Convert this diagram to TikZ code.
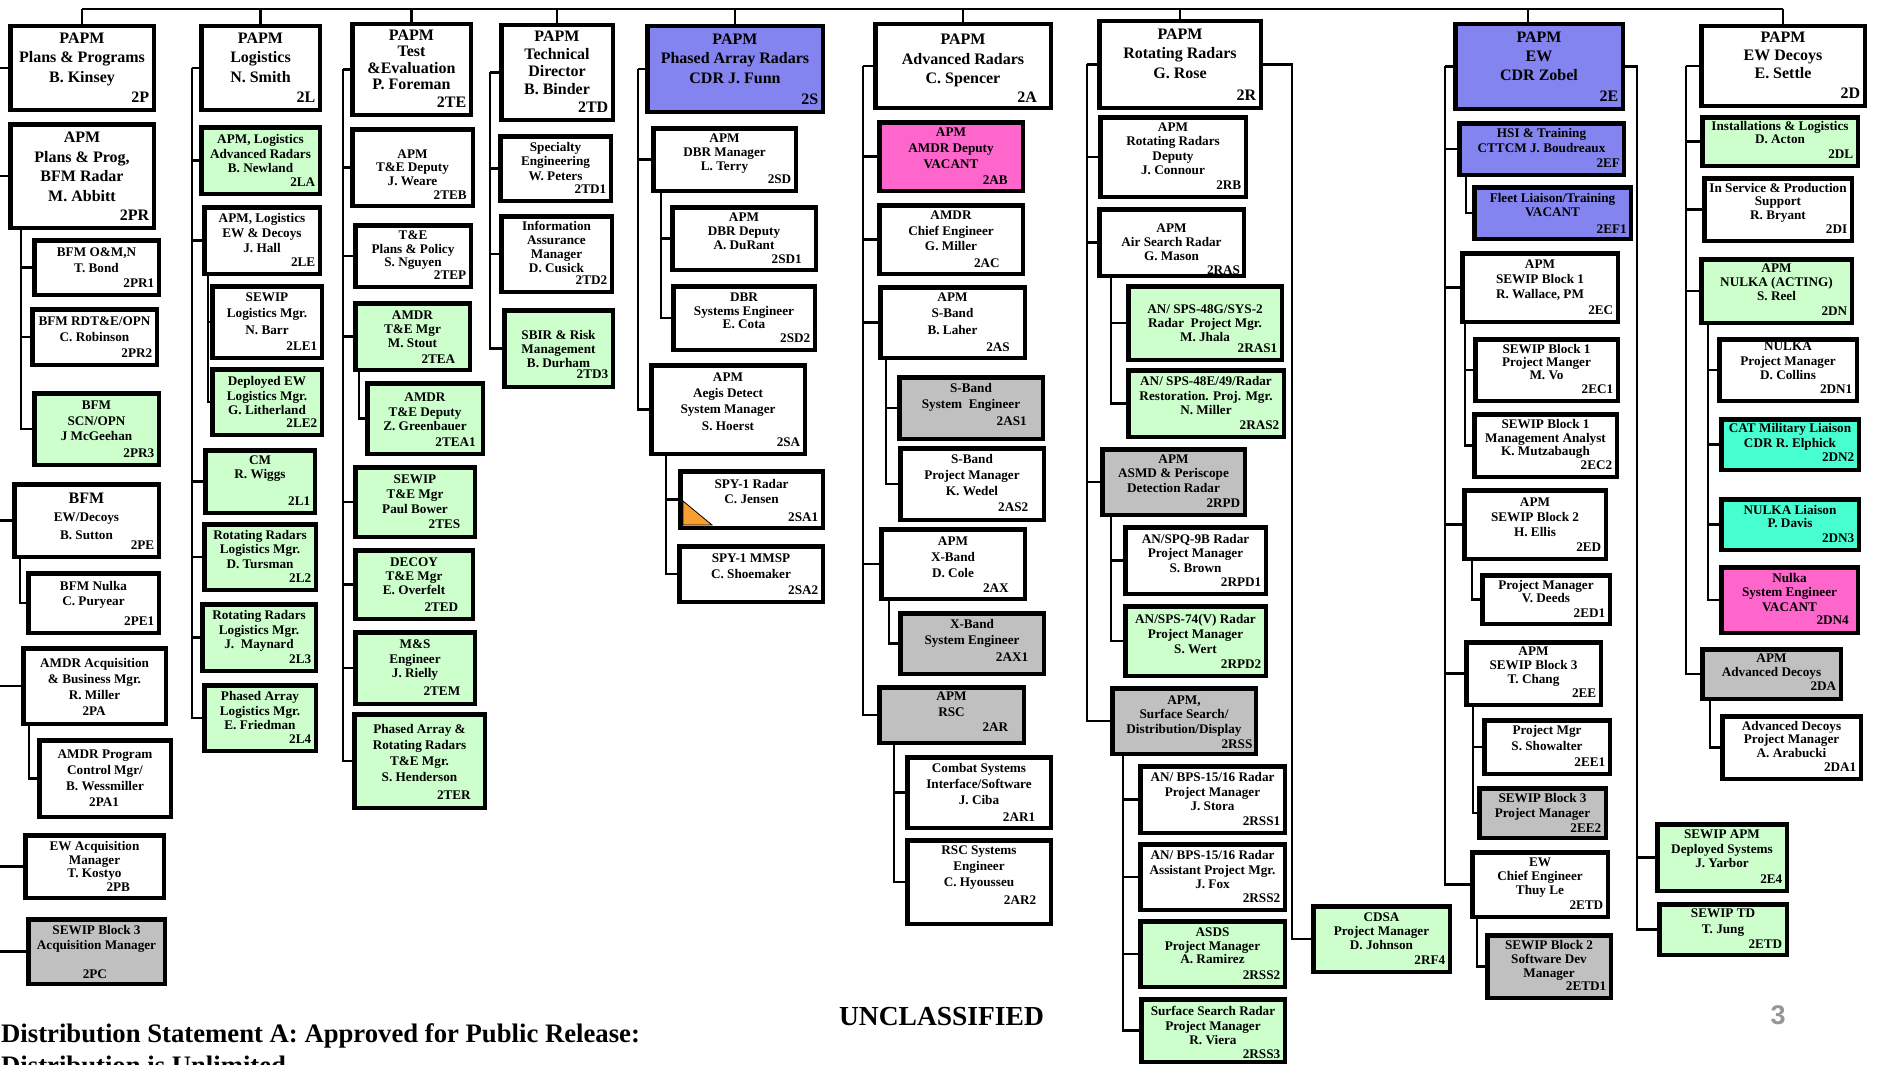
\documentclass[tikz,border=0pt]{standalone}
\usepackage{fontspec}
\setmainfont{Liberation Serif}
\newfontfamily\sansf{Liberation Sans}
\pgfdeclarelayer{bg}
\pgfsetlayers{bg,main}
\definecolor{cgreen}{RGB}{204,255,204}
\definecolor{cblue}{RGB}{132,132,240}
\definecolor{cmag}{RGB}{255,102,204}
\definecolor{cgray}{RGB}{192,192,192}
\definecolor{ccyan}{RGB}{72,255,210}
\definecolor{corange}{RGB}{247,160,50}
\definecolor{cpage}{RGB}{150,150,150}
\tikzset{
 obox/.style={draw=black,line width=4.5pt,fill=white,inner sep=0pt,outer sep=0pt,rectangle},
 gfill/.style={fill=cgreen}, bfill/.style={fill=cblue}, mfill/.style={fill=cmag},
 sfill/.style={fill=cgray}, cfill/.style={fill=ccyan},
 otext/.style={align=center,inner sep=0pt,outer sep=0pt,anchor=north},
 ocode/.style={inner sep=0pt,outer sep=0pt,anchor=south east},
 conn/.style={draw=black,line width=2.3pt},
 obig/.code={\gdef\obsize{16}\gdef\obls{19.5}\gdef\obcs{16}},
 ols/.code={\gdef\obls{#1}},
 od/.code={\gdef\obd{#1}},
 ocx/.code={\gdef\obcx{#1}},
 ocy/.code={\gdef\obcy{#1}},
}
\newcommand\orgbox[8]{%
 \gdef\obsize{13.2}\gdef\obls{14.5}\gdef\obcs{13.2}\gdef\obd{8}\gdef\obcx{4.5}\gdef\obcy{7}%
 \node[obox,#6,anchor=north west,minimum width={#4-#2-4.5},minimum height={#5-#3-4.5}] (#1) at (#2+2.25,#3+2.25) {};
 \node[otext,font={\fontsize{\obsize}{\obls}\selectfont\bfseries}] (#1t) at ([yshift={2.25-\obd}]#1.north) {#7};
 \node[ocode,font={\fontsize{\obcs}{\obcs}\selectfont\bfseries}] (#1c) at ([xshift={-\obcx},yshift={\obcy}]#1.south east) {#8};
}
\begin{document}
\begin{tikzpicture}[x=1pt,y=-1pt]
\useasboundingbox (0,0) rectangle (1883,1065);
% ---------- column 1
\orgbox{n2P}{8}{24}{156}{112}{obig,od=8.6}{PAPM\\Plans \& Programs\\B. Kinsey}{2P}
\orgbox{n2PR}{8}{122}{156}{230}{obig,od=10,ols=19.6}{APM\\Plans \& Prog,\\BFM Radar\\M. Abbitt}{2PR}
\orgbox{n2PR1}{32}{238}{161}{297}{od=9.6,ols=16.5}{BFM O\&M,N\\T. Bond}{2PR1}
\orgbox{n2PR2}{30}{307}{159}{367}{od=10,ols=15.5}{BFM RDT\&E/OPN\\C. Robinson}{2PR2}
\orgbox{n2PR3}{32}{391}{161}{467}{gfill,od=10,ols=15.5}{BFM\\SCN/OPN\\J McGeehan}{2PR3}
\orgbox{n2PE}{12}{482}{161}{559}{od=11,ols=18}{{\fontsize{16}{16}\selectfont BFM}\\EW/Decoys\\B. Sutton}{2PE}
\orgbox{n2PE1}{26}{571}{161}{635}{od=10,ols=15.8}{BFM Nulka\\C. Puryear}{2PE1}
\orgbox{n2PA}{21}{646}{168}{726}{od=12,ols=16,ocx=60,ocy=8}{AMDR Acquisition\\\& Business Mgr.\\R. Miller}{2PA}
\orgbox{n2PA1}{37}{738}{173}{819}{od=12,ols=16,ocx=51.75,ocy=10}{AMDR Program\\Control Mgr/\\B. Wessmiller}{2PA1}
\orgbox{n2PB}{23}{833}{166}{900}{od=8.6,ols=13.3,ocx=33.75,ocy=6.5}{EW Acquisition\\Manager\\T. Kostyo}{2PB}
\orgbox{n2PC}{26}{917}{167}{986}{sfill,od=8.6,ols=14.5,ocx=57.75,ocy=5}{SEWIP Block 3\\Acquisition Manager}{2PC}
% ---------- column 2
\orgbox{n2L}{199}{24}{322}{112}{obig,od=8.6}{PAPM\\Logistics\\N. Smith}{2L}
\orgbox{n2LA}{199}{125}{322}{196}{gfill,od=9.6,ols=14.4}{APM, Logistics\\Advanced Radars\\B. Newland}{2LA}
\orgbox{n2LE}{202}{205}{322}{276}{od=8.6,ols=14.8}{APM, Logistics\\EW \& Decoys\\J. Hall}{2LE}
\orgbox{n2LE1}{210}{284}{324}{360}{od=8.6,ols=16.5}{SEWIP\\Logistics Mgr.\\N. Barr}{2LE1}
\orgbox{n2LE2}{210}{367}{324}{437}{gfill,od=9.6,ols=14.6}{Deployed EW\\Logistics Mgr.\\G. Litherland}{2LE2}
\orgbox{n2L1}{203}{448}{317}{515}{gfill,od=7.6}{CM\\R. Wiggs}{2L1}
\orgbox{n2L2}{202}{522}{318}{592}{gfill,od=8}{Rotating Radars\\Logistics Mgr.\\D. Tursman}{2L2}
\orgbox{n2L3}{200}{602}{318}{673}{gfill,od=8.6}{Rotating Radars\\Logistics Mgr.\\J.\ \ Maynard}{2L3}
\orgbox{n2L4}{202}{683}{318}{753}{gfill,od=8.6}{Phased Array\\Logistics Mgr.\\E. Friedman}{2L4}
% ---------- column 3
\orgbox{n2TE}{350}{22}{473}{117}{obig,od=8,ols=16.4}{PAPM\\Test\\\&Evaluation\\P. Foreman}{2TE}
\orgbox{n2TEB}{350}{127}{475}{208}{od=22.4,ols=13.8,ocx=6,ocy=6}{APM\\T\&E Deputy\\J. Weare}{2TEB}
\orgbox{n2TEP}{353}{223}{473}{289}{od=7.6,ols=13.8}{T\&E\\Plans \& Policy\\S. Nguyen}{2TEP}
\orgbox{n2TEA}{353}{301}{472}{372}{gfill,od=10,ols=14.1,ocx=14.5,ocy=6.5}{AMDR\\T\&E Mgr\\M. Stout}{2TEA}
\orgbox{n2TEA1}{365}{381}{485}{456}{gfill,od=12,ols=14.6,ocx=7}{AMDR\\T\&E Deputy\\Z. Greenbauer}{2TEA1}
\orgbox{n2TES}{353}{465}{477}{539}{gfill,od=10,ols=15,ocx=14.5,ocy=8}{SEWIP\\T\&E Mgr\\Paul Bower}{2TES}
\orgbox{n2TED}{353}{548}{475}{621}{gfill,od=10,ols=14,ocx=14.5,ocy=7.7}{DECOY\\T\&E Mgr\\E. Overfelt}{2TED}
\orgbox{n2TEM}{353}{630}{477}{706}{gfill,od=10,ols=14.6,ocx=14.5,ocy=8}{M\&S\\Engineer\\J. Rielly}{2TEM}
\orgbox{n2TER}{352}{712}{487}{810}{gfill,od=12.7,ols=15.8,ocx=14,ocy=8.7}{Phased Array \&\\Rotating Radars\\T\&E Mgr.\\S. Henderson}{2TER}
% ---------- column 4
\orgbox{n2TD}{499}{23}{615}{122}{obig,od=8,ols=17.7}{PAPM\\Technical\\Director\\B. Binder}{2TD}
\orgbox{n2TD1}{498}{134}{613}{203}{od=8,ols=14.6}{Specialty\\Engineering\\W. Peters}{2TD1}
\orgbox{n2TD2}{499}{214}{614}{294}{od=7.6,ols=13.8}{Information\\Assurance\\Manager\\D. Cusick}{2TD2}
\orgbox{n2TD3}{502}{308}{615}{389}{gfill,od=22.4,ols=13.8,ocy=8}{SBIR \& Risk\\Management\\B. Durham}{2TD3}
% ---------- column 5
\orgbox{n2S}{645}{24}{825}{114}{bfill,obig,od=10,ols=19.3}{PAPM\\Phased Array Radars\\CDR J. Funn}{2S}
\orgbox{n2SD}{651}{126}{798}{193}{od=8,ols=14.1}{APM\\DBR Manager\\L. Terry}{2SD}
\orgbox{n2SD1}{670}{205}{818}{272}{od=8,ols=13.8,ocx=14,ocy=6.25}{APM\\DBR Deputy\\A. DuRant}{2SD1}
\orgbox{n2SD2}{671}{284}{817}{352}{od=8.6,ols=13.8}{DBR\\Systems Engineer\\E. Cota}{2SD2}
\orgbox{n2SA}{649}{363}{807}{456}{od=10,ols=16.1}{APM\\Aegis Detect\\System Manager\\S. Hoerst}{2SA}
\orgbox{n2SA1}{678}{469}{825}{530}{od=10,ols=15.8,ocy=6}{SPY-1 Radar\\C. Jensen}{2SA1}
\orgbox{n2SA2}{677}{544}{825}{604}{od=9.3,ols=16.5}{SPY-1 MMSP\\C. Shoemaker}{2SA2}
\filldraw[fill=corange,draw=black,line width=0.8pt] (683,501) -- (683,525) -- (712,525) -- cycle;
% ---------- column 6
\orgbox{n2A}{873}{22}{1053}{110}{obig,od=12,ols=19.5,ocx=13.75,ocy=5}{PAPM\\Advanced Radars\\C. Spencer}{2A}
\orgbox{n2AB}{877}{120}{1025}{193}{mfill,od=7.6,ols=16,ocx=15,ocy=6}{APM\\AMDR Deputy\\VACANT}{2AB}
\orgbox{n2AC}{877}{203}{1025}{276}{od=7.6,ols=15.7,ocx=23,ocy=6}{AMDR\\Chief Engineer\\G. Miller}{2AC}
\orgbox{n2AS}{878}{285}{1027}{360}{od=7.6,ols=16.4,ocx=15,ocy=6.5}{APM\\S-Band\\B. Laher}{2AS}
\orgbox{n2AS1}{897}{375}{1045}{441}{sfill,od=8,ols=16.2,ocx=16,ocy=13.5}{S-Band\\System\ \ Engineer}{2AS1}
\orgbox{n2AS2}{898}{446}{1046}{522}{od=8.6,ols=15.8,ocx=15.5,ocy=8.5}{S-Band\\Project Manager\\K. Wedel}{2AS2}
\orgbox{n2AX}{879}{527}{1027}{601}{od=10,ols=16,ocx=16,ocy=6}{APM\\X-Band\\D. Cole}{2AX}
\orgbox{n2AX1}{898}{611}{1046}{676}{sfill,od=8.6,ols=16.2,ocx=15.5,ocy=12.5}{X-Band\\System Engineer}{2AX1}
\orgbox{n2AR}{877}{685}{1026}{745}{sfill,od=7,ols=15.8,ocx=15.5,ocy=11.5}{APM\\RSC}{2AR}
\orgbox{n2AR1}{905}{755}{1053}{830}{od=8.6,ols=16,ocx=15.5,ocy=6.5}{Combat Systems\\Interface/Software\\J. Ciba}{2AR1}
\orgbox{n2AR2}{905}{838}{1053}{926}{od=7.6,ols=16,ocx=14.5,ocy=19.5}{RSC Systems\\Engineer\\C. Hyousseu}{2AR2}
% ---------- column 7
\orgbox{n2R}{1097}{19}{1263}{110}{obig,od=10,ols=19.3}{PAPM\\Rotating Radars\\G. Rose}{2R}
\orgbox{n2RB}{1098}{115}{1248}{199}{od=7.6,ols=14.4}{APM\\Rotating Radars\\Deputy\\J. Connour}{2RB}
\orgbox{n2RAS}{1097}{207}{1246}{278}{od=17,ols=13.8,ocx=3.75,ocy=1}{APM\\Air Search Radar\\G. Mason}{2RAS}
\orgbox{n2RAS1}{1126}{284}{1284}{362}{gfill,od=21,ols=13.8}{AN/ SPS-48G/SYS-2\\Radar\ \ Project Mgr.\\M. Jhala}{2RAS1}
\orgbox{n2RAS2}{1126}{368}{1286}{439}{gfill,od=8.6,ols=14.5}{AN/ SPS-48E/49/Radar\\Restoration. Proj. Mgr.\\N. Miller}{2RAS2}
\orgbox{n2RPD}{1100}{447}{1247}{517}{sfill,od=7.6,ols=14.6}{APM\\ASMD \& Periscope\\Detection Radar}{2RPD}
\orgbox{n2RPD1}{1123}{525}{1268}{596}{od=9,ols=14.6}{AN/SPQ-9B Radar\\Project Manager\\S. Brown}{2RPD1}
\orgbox{n2RPD2}{1123}{604}{1268}{678}{gfill,od=10,ols=15}{AN/SPS-74(V) Radar\\Project Manager\\S. Wert}{2RPD2}
\orgbox{n2RSS}{1110}{686}{1258}{756}{sfill,od=9.3,ols=14.5,ocx=3.4,ocy=5.5}{APM,\\Surface Search/\\Distribution/Display}{2RSS}
\orgbox{n2RSS1}{1138}{764}{1287}{835}{od=8.6,ols=14.3}{AN/ BPS-15/16 Radar\\Project Manager\\J. Stora}{2RSS1}
\orgbox{n2RSS2}{1138}{842}{1287}{912}{od=8.6,ols=14.6}{AN/ BPS-15/16 Radar\\Assistant Project Mgr.\\J. Fox}{2RSS2}
\orgbox{n2RSS2b}{1138}{919}{1287}{989}{gfill,od=8.6,ols=13.8}{ASDS\\Project Manager\\A. Ramirez}{2RSS2}
\orgbox{n2RSS3}{1139}{997}{1287}{1064}{gfill,od=9.6,ols=14.1,ocy=3}{Surface Search Radar\\Project Manager\\R. Viera}{2RSS3}
\orgbox{n2RF4}{1311}{904}{1452}{974}{gfill,od=8.6,ols=14.1}{CDSA\\Project Manager\\D. Johnson}{2RF4}
% ---------- column 8
\orgbox{n2E}{1453}{22}{1625}{111}{bfill,obig,od=10,ols=19}{PAPM\\EW\\CDR Zobel}{2E}
\orgbox{n2EF}{1457}{121}{1626}{177}{bfill,od=7.6,ols=15.2,ocx=3.75,ocy=7.75}{HSI \& Training\\CTTCM J. Boudreaux}{2EF}
\orgbox{n2EF1}{1472}{185}{1633}{241}{bfill,od=8.3,ols=13.8,ocx=4,ocy=5.25}{Fleet Liaison/Training\\VACANT}{2EF1}
\orgbox{n2EC}{1460}{251}{1620}{324}{od=8.3,ols=15}{APM\\SEWIP Block 1\\R. Wallace, PM}{2EC}
\orgbox{n2EC1}{1473}{337}{1620}{403}{od=7,ols=13.4}{SEWIP Block 1\\Project Manger\\M. Vo}{2EC1}
\orgbox{n2EC2}{1472}{412}{1619}{479}{od=7.2,ols=13.8,ocy=6.75}{SEWIP Block 1\\Management Analyst\\K. Mutzabaugh}{2EC2}
\orgbox{n2ED}{1462}{488}{1608}{561}{od=9.3,ols=15}{APM\\SEWIP Block 2\\H. Ellis}{2ED}
\orgbox{n2ED1}{1480}{573}{1612}{626}{od=7.6,ols=12.4,ocy=6.5}{Project Manager\\V. Deeds}{2ED1}
\orgbox{n2EE}{1464}{640}{1603}{707}{od=7,ols=13.8}{APM\\SEWIP Block 3\\T. Chang}{2EE}
\orgbox{n2EE1}{1482}{718}{1612}{776}{od=7.6,ols=15.5}{Project Mgr\\S. Showalter}{2EE1}
\orgbox{n2EE2}{1477}{786}{1608}{840}{sfill,od=7.2,ols=15.5,ocy=5.25}{SEWIP Block 3\\Project Manager}{2EE2}
\orgbox{n2ETD}{1470}{850}{1610}{919}{od=7.6,ols=14.1}{EW\\Chief Engineer\\Thuy Le}{2ETD}
\orgbox{n2ETD1}{1485}{933}{1613}{1000}{sfill,od=7.6,ols=13.8}{SEWIP Block 2\\Software Dev\\Manager}{2ETD1}
\orgbox{n2E4}{1655}{822}{1789}{893}{gfill,od=8,ols=14.6}{SEWIP APM\\Deployed Systems\\J. Yarbor}{2E4}
\orgbox{n2ETDb}{1657}{902}{1789}{957}{gfill,od=7,ols=15.5,ocy=6}{SEWIP TD\\T. Jung}{2ETD}
% ---------- column 9
\orgbox{n2D}{1699}{24}{1867}{108}{obig,od=7.6,ols=18.4}{PAPM\\EW Decoys\\E. Settle}{2D}
\orgbox{n2DL}{1700}{115}{1860}{168}{gfill,od=5.9,ols=13.8,ocy=6.75}{Installations \& Logistics\\D. Acton}{2DL}
\orgbox{n2DI}{1702}{176}{1854}{243}{od=7,ols=13.8}{In Service \& Production\\Support\\R. Bryant}{2DI}
\orgbox{n2DN}{1699}{257}{1854}{325}{gfill,od=7,ols=14.1}{APM\\NULKA (ACTING)\\S. Reel}{2DN}
\orgbox{n2DN1}{1717}{337}{1859}{403}{od=5.2,ols=14.1}{NULKA\\Project Manager\\D. Collins}{2DN1}
\orgbox{n2DN2}{1719}{417}{1861}{472}{cfill,od=6.2,ols=14.8,ocy=7.75}{CAT Military Liaison\\CDR R. Elphick}{2DN2}
\orgbox{n2DN3}{1719}{497}{1861}{552}{cfill,od=8,ols=13.8}{NULKA Liaison\\P. Davis}{2DN3}
\orgbox{n2DN4}{1719}{565}{1860}{635}{mfill,od=8,ols=14.5,ocx=9,ocy=7.75}{Nulka\\System Engineer\\VACANT}{2DN4}
\orgbox{n2DA}{1700}{647}{1843}{701}{sfill,od=7,ols=13.8,ocy=7.75}{APM\\Advanced Decoys}{2DA}
\orgbox{n2DA1}{1720}{714}{1863}{781}{od=7,ols=13.8}{Advanced Decoys\\Project Manager\\A. Arabucki}{2DA1}
% ---------- footer texts
\node[anchor=base west,inner sep=0pt,font=\fontsize{26.7}{31}\selectfont\bfseries] (dist1) at (1,1042) {Distribution Statement A: Approved for Public Release:};
\node[anchor=base west,inner sep=0pt,font=\fontsize{26.7}{31}\selectfont\bfseries] (dist2) at (1,1074) {Distribution is Unlimited};
\node[anchor=base,inner sep=0pt,font=\fontsize{27.5}{30}\selectfont\bfseries] (uncl) at (941.5,1025) {UNCLASSIFIED};
\node[anchor=base,inner sep=0pt,text=cpage,font=\sansf\fontsize{27}{30}\selectfont\bfseries] (pgno) at (1778,1024) {3};
% ---------- connectors
\begin{pgfonlayer}{bg}
\fill[white] (0,0) rectangle (1883,1065);
\draw[conn] (n2P.north |- 0,9) -- (n2D.north |- 0,9);
\foreach \n in {n2P,n2L,n2TE,n2TD,n2S,n2A,n2R,n2D} \draw[conn] (\n.north |- 0,9) -- (\n.north);
\coordinate (etop) at ([xshift=-11pt]n2E.north);
\draw[conn] (etop |- 0,9) -- (etop);
% col 1
\foreach \n in {n2P,n2PR,n2PE,n2PA,n2PB,n2PC} \draw[conn] (\n.west -| 0,0) -- (\n.west);
\foreach \n in {n2PR1,n2PR2,n2PR3} \draw[conn] (n2PR.south -| 21,0) |- (\n.west);
\draw[conn] (n2PE.south -| 20,0) |- (n2PE1.west);
\draw[conn] (n2PA.south -| 29,0) |- (n2PA1.west);
% col 2
\draw[conn] (n2L.west -| 192,0) -- (n2L.west);
\foreach \n in {n2LA,n2LE,n2L1,n2L2,n2L3,n2L4} \draw[conn] (n2L.west -| 192,0) |- (\n.west);
\foreach \n in {n2LE1,n2LE2} \draw[conn] (n2LE.south -| 208,0) |- (\n.west);
% col 3
\draw[conn] (n2TE.west -| 343,0) -- (n2TE.west);
\foreach \n in {n2TEB,n2TEP,n2TEA,n2TES,n2TED,n2TEM,n2TER} \draw[conn] (n2TE.west -| 343,0) |- (\n.west);
\draw[conn] (n2TEA.south -| 359,0) |- (n2TEA1.west);
% col 4
\draw[conn] (n2TD.west -| 490,0) -- (n2TD.west);
\foreach \n in {n2TD1,n2TD2,n2TD3} \draw[conn] (n2TD.west -| 490,0) |- (\n.west);
% col 5
\draw[conn] (n2S.west -| 638,0) -- (n2S.west);
\foreach \n in {n2SD,n2SA} \draw[conn] (n2S.west -| 638,0) |- (\n.west);
\foreach \n in {n2SD1,n2SD2} \draw[conn] (n2SD.south -| 661,0) |- (\n.west);
\foreach \n in {n2SA1,n2SA2} \draw[conn] (n2SA.south -| 666,0) |- (\n.west);
% col 6
\draw[conn] (n2A.west -| 863,0) -- (n2A.west);
\foreach \n in {n2AB,n2AC,n2AS,n2AX,n2AR} \draw[conn] (n2A.west -| 863,0) |- (\n.west);
\foreach \n in {n2AS1,n2AS2} \draw[conn] (n2AS.south -| 886,0) |- (\n.west);
\draw[conn] (n2AX.south -| 889,0) |- (n2AX1.west);
\foreach \n in {n2AR1,n2AR2} \draw[conn] (n2AR.south -| 894,0) |- (\n.west);
% col 7
\draw[conn] (n2R.west -| 1087,0) -- (n2R.west);
\foreach \n in {n2RB,n2RAS,n2RPD,n2RSS} \draw[conn] (n2R.west -| 1087,0) |- (\n.west);
\foreach \n in {n2RAS1,n2RAS2} \draw[conn] (n2RAS.south -| 1111,0) |- (\n.west);
\foreach \n in {n2RPD1,n2RPD2} \draw[conn] (n2RPD.south -| 1111,0) |- (\n.west);
\foreach \n in {n2RSS1,n2RSS2,n2RSS2b,n2RSS3} \draw[conn] (n2RSS.south -| 1123,0) |- (\n.west);
\draw[conn] (n2R.east) -| (n2RF4.west -| 1292,0) -- (n2RF4.west);
% col 8
\draw[conn] (n2E.west -| 1445,0) -- (n2E.west);
\foreach \n in {n2EF,n2EC,n2ED,n2EE,n2ETD} \draw[conn] (n2E.west -| 1445,0) |- (\n.west);
\draw[conn] (n2EF.south -| 1466,0) |- (n2EF1.west);
\foreach \n in {n2EC1,n2EC2} \draw[conn] (n2EC.south -| 1465,0) |- (\n.west);
\draw[conn] (n2ED.south -| 1472,0) |- (n2ED1.west);
\foreach \n in {n2EE1,n2EE2} \draw[conn] (n2EE.south -| 1473,0) |- (\n.west);
\draw[conn] (n2ETD.south -| 1477,0) |- (n2ETD1.west);
\draw[conn] (n2E.east) -| (n2ETDb.west -| 1637,0) -- (n2ETDb.west);
\draw[conn] (n2E4.west -| 1637,0) -- (n2E4.west);
% col 9
\draw[conn] (n2D.west -| 1686,0) -- (n2D.west);
\foreach \n in {n2DL,n2DI,n2DN,n2DA} \draw[conn] (n2D.west -| 1686,0) |- (\n.west);
\foreach \n in {n2DN1,n2DN2,n2DN3,n2DN4} \draw[conn] (n2DN.south -| 1708,0) |- (\n.west);
\draw[conn] (n2DA.south -| 1710,0) |- (n2DA1.west);
\end{pgfonlayer}
\end{tikzpicture}
\end{document}
